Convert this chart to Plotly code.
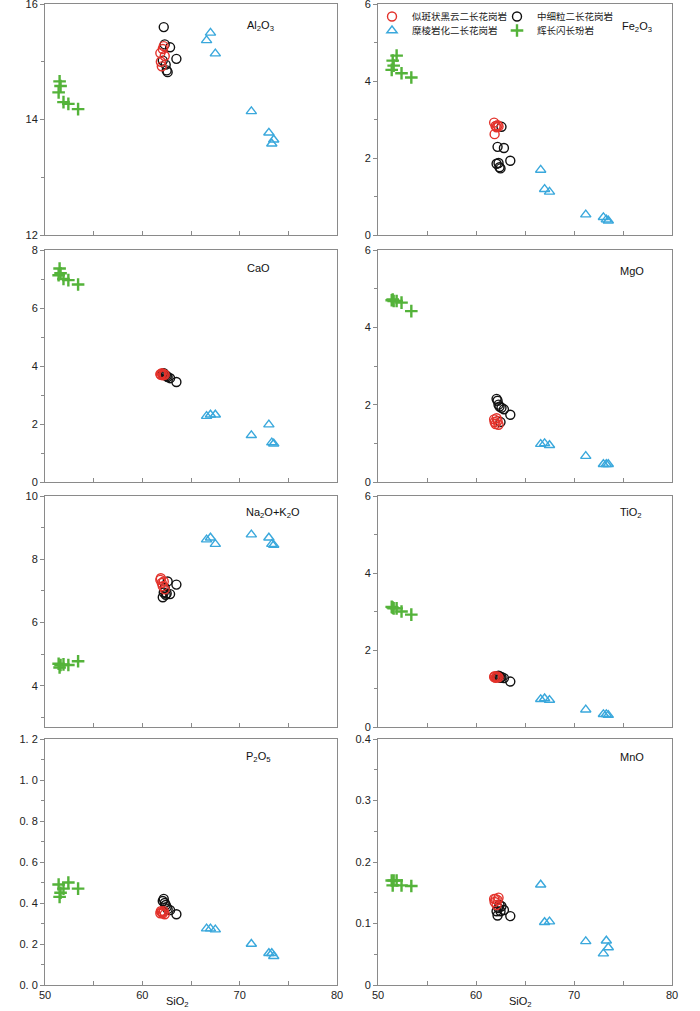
import plotly.graph_objects as go

# ---------------- data ----------------
oxides = ["Al2O3", "Fe2O3", "CaO", "MgO", "Na2O+K2O", "TiO2", "P2O5", "MnO"]
oxide_labels = ["Al<sub>2</sub>O<sub>3</sub>", "Fe<sub>2</sub>O<sub>3</sub>", "CaO", "MgO",
                "Na<sub>2</sub>O+K<sub>2</sub>O", "TiO<sub>2</sub>", "P<sub>2</sub>O<sub>5</sub>", "MnO"]
series_names = ["似斑状黑云二长花岗岩", "中细粒二长花岗岩", "糜棱岩化二长花岗岩", "辉长闪长玢岩"]

si_red = [61.85, 61.9, 62.0, 62.1, 62.2, 62.3]
si_black = [62.1, 62.2, 62.3, 62.4, 62.5, 62.6, 62.85, 63.5]
si_blue = [66.6, 67.0, 67.5, 71.2, 73.0, 73.3, 73.5]
si_green = [51.4, 51.5, 51.6, 51.9, 52.4, 53.4]

al2o3_red = [15.15, 15.0, 14.92, 15.22, 15.27, 15.1]
fe2o3_red = [2.92, 2.62, 2.83, 2.80, 2.85, 2.82]
cao_red = [3.72, 3.70, 3.75, 3.68, 3.73, 3.70]
mgo_red = [1.62, 1.55, 1.50, 1.65, 1.58, 1.48]
alk_red = [7.35, 7.40, 7.25, 7.15, 7.30, 7.05]
tio2_red = [1.30, 1.32, 1.28, 1.30, 1.31, 1.29]
p2o5_red = [0.35, 0.36, 0.355, 0.35, 0.36, 0.345]
mno_red = [0.14, 0.135, 0.14, 0.13, 0.138, 0.142]

al2o3_black = [15.02, 15.6, 15.3, 14.95, 14.85, 14.82, 15.25, 15.05]
fe2o3_black = [1.85, 2.29, 1.87, 1.76, 1.73, 2.81, 2.26, 1.93]
cao_black = [3.72, 3.75, 3.70, 3.68, 3.65, 3.62, 3.58, 3.45]
mgo_black = [2.15, 2.10, 2.00, 1.95, 1.55, 1.92, 1.88, 1.74]
alk_black = [6.80, 6.95, 7.10, 6.88, 6.92, 7.30, 6.90, 7.20]
tio2_black = [1.30, 1.32, 1.33, 1.31, 1.28, 1.30, 1.27, 1.18]
p2o5_black = [0.41, 0.42, 0.40, 0.39, 0.38, 0.37, 0.365, 0.345]
mno_black = [0.12, 0.113, 0.125, 0.13, 0.12, 0.128, 0.122, 0.112]

al2o3_blue = [15.37, 15.5, 15.14, 14.14, 13.77, 13.58, 13.65]
fe2o3_blue = [1.69, 1.19, 1.12, 0.53, 0.46, 0.40, 0.37]
cao_blue = [2.27, 2.32, 2.32, 1.61, 1.98, 1.36, 1.32]
mgo_blue = [0.98, 1.0, 0.95, 0.67, 0.46, 0.46, 0.46]
alk_blue = [8.62, 8.68, 8.48, 8.78, 8.68, 8.48, 8.45]
tio2_blue = [0.72, 0.74, 0.70, 0.45, 0.33, 0.33, 0.31]
p2o5_blue = [0.275, 0.275, 0.27, 0.20, 0.155, 0.155, 0.14]
mno_blue = [0.163, 0.102, 0.103, 0.071, 0.051, 0.072, 0.061]

al2o3_green = [14.47, 14.66, 14.58, 14.30, 14.27, 14.18]
fe2o3_green = [4.29, 4.53, 4.40, 4.66, 4.20, 4.09]
cao_green = [7.13, 7.36, 7.20, 7.0, 6.96, 6.81]
mgo_green = [4.70, 4.72, 4.68, 4.68, 4.64, 4.42]
alk_green = [4.70, 4.58, 4.66, 4.68, 4.66, 4.78]
tio2_green = [3.12, 3.10, 3.08, 3.08, 3.00, 2.92]
p2o5_green = [0.49, 0.43, 0.45, 0.47, 0.50, 0.47]
mno_green = [0.17, 0.162, 0.17, 0.17, 0.162, 0.161]

red_vals = [al2o3_red, fe2o3_red, cao_red, mgo_red, alk_red, tio2_red, p2o5_red, mno_red]
black_vals = [al2o3_black, fe2o3_black, cao_black, mgo_black, alk_black, tio2_black, p2o5_black, mno_black]
blue_vals = [al2o3_blue, fe2o3_blue, cao_blue, mgo_blue, alk_blue, tio2_blue, p2o5_blue, mno_blue]
green_vals = [al2o3_green, fe2o3_green, cao_green, mgo_green, alk_green, tio2_green, p2o5_green, mno_green]

y_ranges = [[12, 16], [0, 6], [0, 8], [0, 6], [2.7, 10], [0, 6], [0, 1.2], [0, 0.4]]
y_major = [[12, 14, 16], [0, 2, 4, 6], [0, 2, 4, 6, 8], [0, 2, 4, 6], [4, 6, 8, 10], [0, 2, 4, 6],
           [0, 0.2, 0.4, 0.6, 0.8, 1.0, 1.2], [0, 0.1, 0.2, 0.3, 0.4]]
y_ticktext = [["12", "14", "16"], ["0", "2", "4", "6"], ["0", "2", "4", "6", "8"], ["0", "2", "4", "6"],
              ["4", "6", "8", "10"], ["0", "2", "4", "6"],
              ["0. 0", "0. 2", "0. 4", "0. 6", "0. 8", "1. 0", "1. 2"], ["0", "0.1", "0.2", "0.3", "0.4"]]
y_minor = [1, 1, 1, 1, 1, 1, 0.1, 0.05]
x_ticks = [50, 60, 70, 80]

# ---------------- layout geometry ----------------
W, H = 700, 1011
ML, MR, MT, MB = 45, 28, 4, 26
PW, PH = W - ML - MR, H - MT - MB

def px_x(p):
    return (p - ML) / PW

def px_y(p):
    return (H - MB - p) / PH

col_px = [(45, 337), (378, 672)]
row_px = [(4, 235), (250, 482), (496, 727), (739, 985)]

fig = go.Figure()

styles = [
    dict(name=series_names[1], vals=black_vals, si=si_black, color="#111111", symbol="circle-open", size=9, lw=1.4, legend="legend2"),
    dict(name=series_names[0], vals=red_vals, si=si_red, color="#e3322b", symbol="circle-open", size=9, lw=1.4, legend="legend"),
    dict(name=series_names[2], vals=blue_vals, si=si_blue, color="#3aa8dc", symbol="triangle-up-open", size=9, lw=1.4, legend="legend3"),
    dict(name=series_names[3], vals=green_vals, si=si_green, color="#54b33a", symbol="cross-thin-open", size=9, lw=2.4, legend="legend4"),
]

for i in range(8):
    ax = "" if i == 0 else str(i + 1)
    for s in styles:
        fig.add_trace(go.Scatter(
            x=s["si"], y=s["vals"][i], mode="markers", name=s["name"],
            xaxis="x" + ax, yaxis="y" + ax,
            marker=dict(symbol=s["symbol"], size=s["size"], color=s["color"],
                        line=dict(width=s["lw"], color=s["color"])),
            showlegend=(i == 1), legend=s["legend"],
        ))

axis_color = "#8a8a8a"
tick_font = dict(family="Liberation Sans, Arial, sans-serif", size=11, color="#222222")
layout = {}
for i in range(8):
    r, c = divmod(i, 2)
    sfx = "" if i == 0 else str(i + 1)
    x0, x1 = col_px[c]
    y0, y1 = row_px[r]
    bottom = (r == 3)
    layout["xaxis" + sfx] = dict(
        domain=[px_x(x0), px_x(x1)], range=[50, 80], anchor="y" + sfx,
        tickvals=x_ticks, ticks="inside", ticklen=4, tickcolor=axis_color,
        showticklabels=bottom, tickfont=tick_font, ticklabeloverflow="allow",
        minor=dict(dtick=5, tick0=50, ticks="inside", ticklen=4, tickcolor=axis_color),
        showline=True, linecolor=axis_color, linewidth=1, mirror=True,
        showgrid=False, zeroline=False, fixedrange=True,
    )
    layout["yaxis" + sfx] = dict(
        domain=[px_y(y1), px_y(y0)], range=y_ranges[i], anchor="x" + sfx,
        tickvals=y_major[i], ticktext=y_ticktext[i], ticks="outside", ticklen=4,
        tickcolor=axis_color, tickfont=tick_font, ticklabeloverflow="allow",
        minor=dict(dtick=y_minor[i], tick0=0, ticks="outside", ticklen=3, tickcolor=axis_color),
        showline=True, linecolor=axis_color, linewidth=1, mirror=True,
        showgrid=False, zeroline=False, fixedrange=True,
    )

label_px = [(260, 26), (637, 27), (258, 268), (632, 271), (273, 513), (631, 513), (258, 757), (632, 757)]
annotations = []
for i in range(8):
    annotations.append(dict(
        text=oxide_labels[i], x=px_x(label_px[i][0]), y=px_y(label_px[i][1]),
        xref="paper", yref="paper", showarrow=False, xanchor="center", yanchor="middle",
        font=dict(family="Liberation Sans, Arial, sans-serif", size=11, color="#111111"),
    ))
for xp in (177, 520):
    annotations.append(dict(
        text="SiO<sub>2</sub>", x=px_x(xp), y=px_y(1002), xref="paper", yref="paper",
        showarrow=False, xanchor="center", yanchor="middle",
        font=dict(family="Liberation Sans, Arial, sans-serif", size=11, color="#111111"),
    ))

legend_font = dict(family="Noto Sans CJK SC", size=9.5, color="#222222")
# legend entries: (legend id, symbol centre x px, row top y px)
legend_pos = [("legend", 392, 2), ("legend2", 517, 2), ("legend3", 392, 16), ("legend4", 517, 16)]
legends = {}
for lid, sx, ty in legend_pos:
    legends[lid] = dict(x=px_x(sx - 20), y=px_y(ty), xanchor="left", yanchor="top",
                        font=legend_font, bgcolor="rgba(0,0,0,0)", itemwidth=30,
                        orientation="h")

fig.update_layout(
    width=W, height=H,
    margin=dict(l=ML, r=MR, t=MT, b=MB, autoexpand=False),
    paper_bgcolor="white", plot_bgcolor="white",
    annotations=annotations,
    **legends,
    **layout,
)

fig.write_html("out.html", config={"displayModeBar": False},
               post_script="document.body.style.margin='0';")
